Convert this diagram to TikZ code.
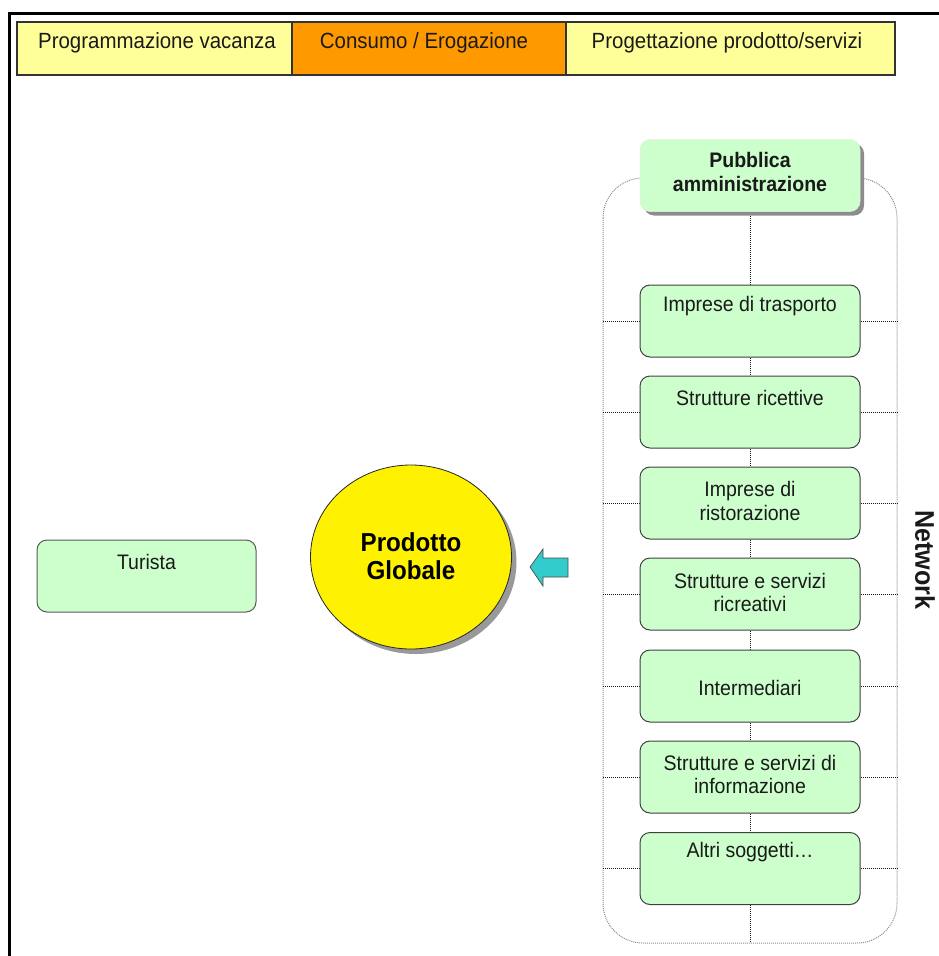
\documentclass[tikz,border=0pt]{standalone}
\usepackage{fontspec}
\setmainfont{Liberation Sans}[FakeStretch=0.93]
\usetikzlibrary{shadows,shapes.geometric}
\definecolor{lyellow}{HTML}{FFFF99}
\definecolor{horange}{HTML}{FF9900}
\definecolor{lgreen}{HTML}{CCFFCC}
\definecolor{pgreen}{HTML}{CCFFCC}
\definecolor{arrcyan}{HTML}{33CCCC}
\definecolor{txtgray}{HTML}{1A1A1A}
\begin{document}
\begin{tikzpicture}[x=1pt,y=-1pt,
  hbox/.style={draw=black!80,line width=1.2pt,inner sep=0pt,minimum height=53pt},
  htxt/.style={font=\fontsize{22}{26}\selectfont,text=txtgray,inner sep=0pt},
  gbox/.style={draw=black!75,line width=1pt,fill=lgreen,rounded corners=10pt,
               minimum width=220pt,minimum height=72pt,inner sep=0pt},
  btxt/.style={font=\fontsize{21}{23.5}\selectfont,text=txtgray,align=center,inner sep=0pt},
  dotline/.style={black!90,line width=1pt,dash pattern=on 1pt off 1pt},
  netline/.style={black!45,line width=1pt,dash pattern=on 1pt off 1pt}]
\useasboundingbox (0,0) rectangle (939,956);
% outer frame
\draw[line width=3pt] (9.5,956) -- (9.5,13) -- (939,13);
% header
\node[hbox,fill=lyellow,minimum width=275pt] (h1) at (154.5,48.5) {};
\node[hbox,fill=horange,minimum width=274pt] (h2) at (429,48.5) {};
\node[hbox,fill=lyellow,minimum width=329pt] (h3) at (730.5,48.5) {};
\node[htxt] (t1) at (157,43) {Programmazione vacanza};
\node[htxt] (t2) at (424,43) {Consumo / Erogazione};
\node[htxt] (t3) at (727,43) {Progettazione prodotto/servizi};
% network container
\draw[netline,rounded corners=40pt] (603,178) rectangle (897,943);
\coordinate (netL) at (603,0);
\coordinate (netR) at (897,0);
\coordinate (netB) at (750,943);
% boxes (positions)
\coordinate (p0) at (750,175.5);
\coordinate (p1) at (750,321);
\coordinate (p2) at (750,412);
\coordinate (p3) at (750,503);
\coordinate (p4) at (750,594);
\coordinate (p5) at (750,686);
\coordinate (p6) at (750,777);
\coordinate (p7) at (750,868.5);
\node[gbox,draw=none,fill=none] (b0) at (p0) {};
\foreach \i in {1,...,7}{\node[gbox,draw=none,fill=none] (b\i) at (p\i) {};}
% connectors
\draw[dotline] (b0.south) -- (b1.north);
\draw[dotline] (b1.south) -- (b2.north);
\draw[dotline] (b2.south) -- (b3.north);
\draw[dotline] (b3.south) -- (b4.north);
\draw[dotline] (b4.south) -- (b5.north);
\draw[dotline] (b5.south) -- (b6.north);
\draw[dotline] (b6.south) -- (b7.north);
\draw[dotline] (b7.south) -- (netB);
\foreach \i in {1,...,7}{
  \draw[dotline] (b\i.west) -- (b\i.west -| netL);
  \draw[dotline] (b\i.east) -- (b\i.east -| netR);
}
% visible boxes
\node[gbox,draw=pgreen!80!black!30,line width=0.5pt,fill=pgreen,
      drop shadow={shadow xshift=4pt,shadow yshift=-4pt,fill=black!45,opacity=1}] (pa) at (p0) {};
\foreach \i in {1,...,7}{\node[gbox] (g\i) at (p\i) {};}
\node[btxt,font=\fontsize{21}{24}\bfseries\selectfont] (pat) at (750,172) {Pubblica\\amministrazione};
\node[btxt] (x1) at (750,306) {Imprese di trasporto};
\node[btxt] (x2) at (750,398) {Strutture ricettive};
\node[btxt] (x3) at (750,501) {Imprese di\\ristorazione};
\node[btxt] (x4) at (750,592.5) {Strutture e servizi\\ricreativi};
\node[btxt] (x5) at (750,688) {Intermediari};
\node[btxt] (x6) at (750,774.5) {Strutture e servizi di\\informazione};
\node[btxt] (x7) at (750,852) {Altri soggetti\ldots};
% Turista
\node[gbox,draw=black!65,minimum width=219pt] (tur) at (146.5,576) {};
\node[btxt] (turt) at (146.5,562) {Turista};
% Prodotto globale
\node[ellipse,draw=black!85,line width=0.8pt,fill=yellow,minimum width=201pt,minimum height=184pt,inner sep=0pt,
      drop shadow={shadow xshift=5pt,shadow yshift=-5pt,fill=black!40,opacity=1}] (pg) at (411,557) {};
\node[btxt,font=\fontsize{26}{28}\bfseries\selectfont,text=black] (pgt) at (411,556) {Prodotto\\Globale};
% arrow
\draw[draw=black!70,line width=0.7pt,fill=arrcyan] (530,567) -- (543,549) -- (543,558) -- (568,558) -- (568,577) -- (543,577) -- (543,586) -- cycle;
% Network label
\node[font=\fontsize{27}{28}\bfseries\selectfont,text=txtgray,rotate=-90,inner sep=0pt] (net) at (925,560) {Network};
\end{tikzpicture}
\end{document}
